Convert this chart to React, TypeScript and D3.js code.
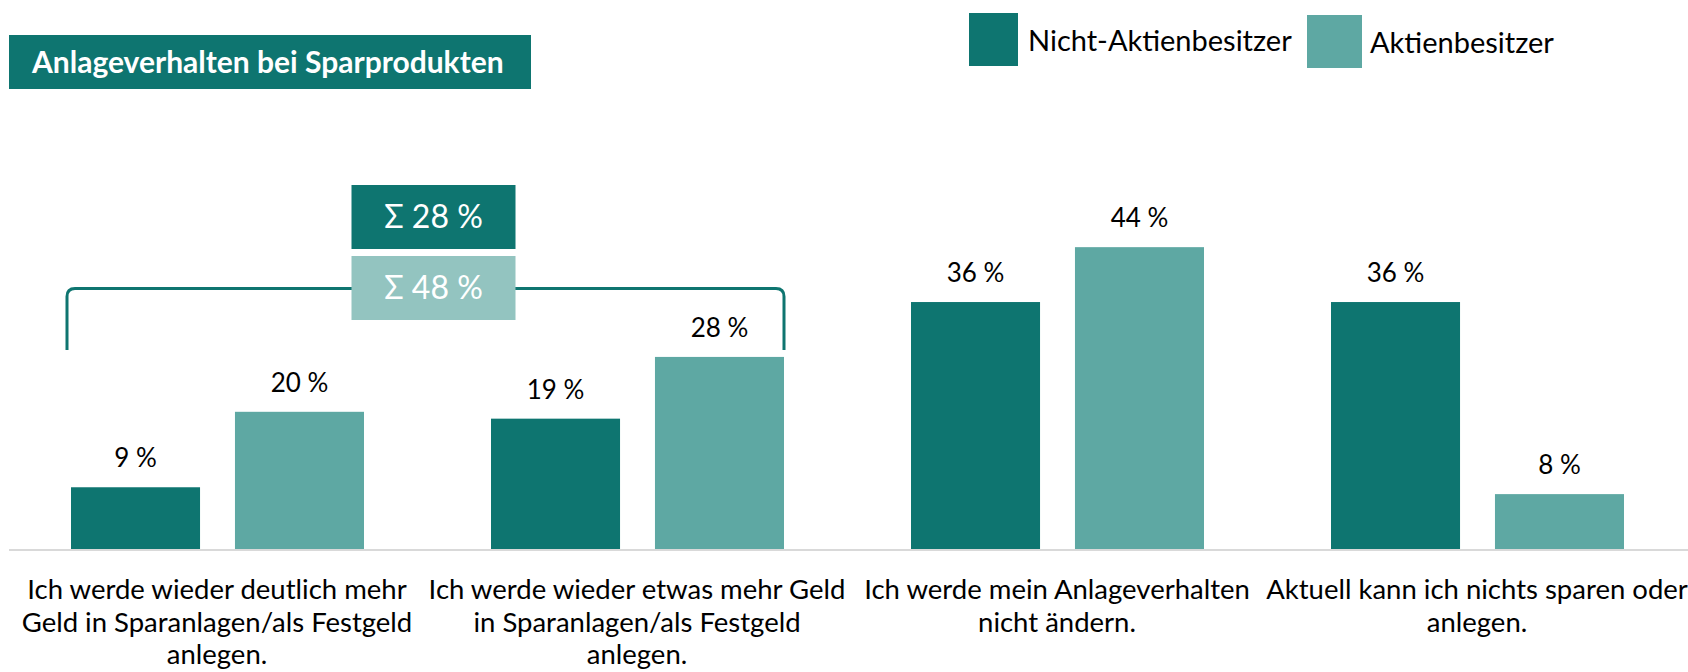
import React from "react";
import * as d3 from "d3";

const categories = ["c1", "c2", "c3", "c4"];
const categoryLines = [
  ["Ich werde wieder deutlich mehr", "Geld in Sparanlagen/als Festgeld", "anlegen."],
  ["Ich werde wieder etwas mehr Geld", "in Sparanlagen/als Festgeld", "anlegen."],
  ["Ich werde mein Anlageverhalten", "nicht ändern."],
  ["Aktuell kann ich nichts sparen oder", "anlegen."],
];
const seriesNames = ["Nicht-Aktienbesitzer", "Aktienbesitzer"];
const nichtAktien = [9, 19, 36, 36];
const aktien = [20, 28, 44, 8];
const sumLabels = ["Σ 28 %", "Σ 48 %"];
const titleText = "Anlageverhalten bei Sparprodukten";

const DARK = "#0e7570";
const LIGHT = "#5ea8a3";
const LIGHTER = "#93c4c0";
const FONT = "Lato, 'Noto Sans', sans-serif";

const W = 1688;
const H = 672;
const baseY = 549;

export default function App() {
  const x = d3.scaleBand<string>().domain(categories).range([7, 1687]).paddingInner(0).paddingOuter(0);
  const inner = d3.scaleBand<string>().domain(["0", "1"]).range([64, 357]).paddingInner(0.213);
  const y = d3.scaleLinear().domain([0, 44]).range([baseY, baseY - 44 * 6.86]);

  const series = [nichtAktien, aktien];
  const colors = [DARK, LIGHT];

  const bx0 = (x(categories[0]) as number) + (inner("0") as number) - 4;
  const bx1 = (x(categories[1]) as number) + (inner("1") as number) + inner.bandwidth();
  const bTop = 288.5;
  const bBot = 350;
  const r = 8;
  const bracket = `M${bx0},${bBot} L${bx0},${bTop + r} Q${bx0},${bTop} ${bx0 + r},${bTop} L${bx1 - r},${bTop} Q${bx1},${bTop} ${bx1},${bTop + r} L${bx1},${bBot}`;
  const boxCx = (bx0 + bx1) / 2 + 8;
  const boxW = 164;

  return (
    <svg width={W} height={H} style={{ position: "absolute", left: 0, top: 0 }} fontFamily={FONT}>
      <rect x={0} y={0} width={W} height={H} fill="#fff" />
      {/* title */}
      <rect x={9} y={35} width={522} height={54} fill={DARK} />
      <text x={32} y={62} dy="0.35em" fill="#fff" fontWeight={700} fontSize={30}>
        {titleText}
      </text>
      {/* legend */}
      <rect x={969} y={13} width={49} height={53} fill={DARK} />
      <text x={1028} y={41} dy="0.35em" fontSize={29} fill="#000">{seriesNames[0]}</text>
      <rect x={1307} y={15} width={55} height={53} fill={LIGHT} />
      <text x={1370} y={43} dy="0.35em" fontSize={29} fill="#000">{seriesNames[1]}</text>

      {/* bracket & sums */}
      <path d={bracket} fill="none" stroke={DARK} strokeWidth={3} />
      <rect x={boxCx - boxW / 2} y={185} width={boxW} height={64} fill={DARK} />
      <text x={boxCx} y={217} dy="0.35em" textAnchor="middle" fill="#fff" fontSize={32}>{sumLabels[0]}</text>
      <rect x={boxCx - boxW / 2} y={256} width={boxW} height={64} fill={LIGHTER} />
      <text x={boxCx} y={288} dy="0.35em" textAnchor="middle" fill="#fff" fontSize={32}>{sumLabels[1]}</text>

      {/* bars */}
      {categories.map((c, i) => (
        <g key={c} transform={`translate(${x(c)},0)`}>
          {series.map((s, j) => {
            const bx = inner(String(j)) as number;
            return (
              <g key={j}>
                <rect x={bx} y={y(s[i])} width={inner.bandwidth()} height={baseY - y(s[i])} fill={colors[j]} />
                <text x={bx + inner.bandwidth() / 2} y={y(s[i]) - 20} textAnchor="middle" fontSize={26} fill="#000">
                  {`${s[i]} %`}
                </text>
              </g>
            );
          })}
          {categoryLines[i].map((ln, k) => (
            <text key={k} x={x.bandwidth() / 2} y={599 + k * 32.5} textAnchor="middle" fontSize={27.5} fill="#000">
              {ln}
            </text>
          ))}
        </g>
      ))}
      {/* baseline */}
      <line x1={9} x2={1688} y1={baseY + 1} y2={baseY + 1} stroke="#d9d9d9" strokeWidth={2} />
    </svg>
  );
}
